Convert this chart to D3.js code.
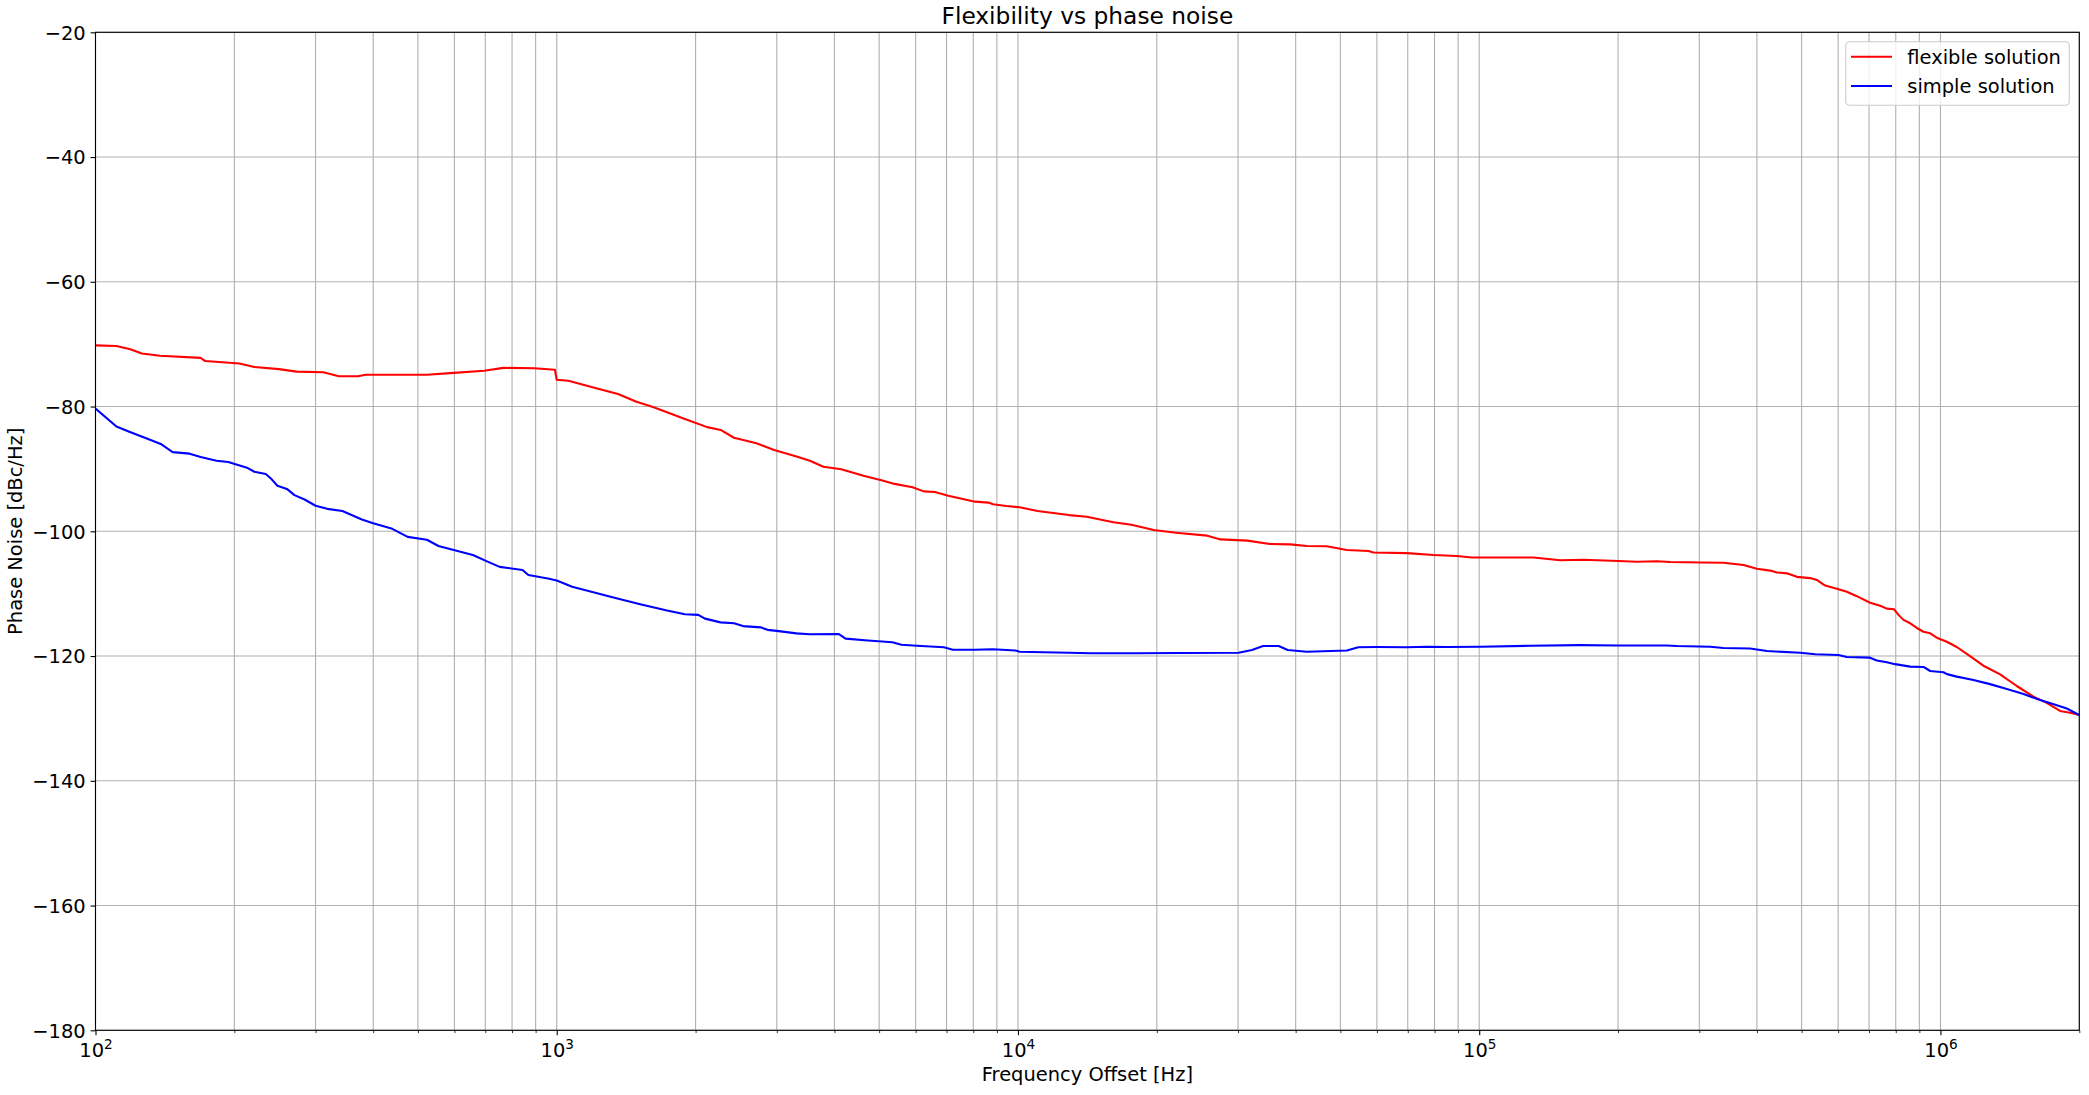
<!DOCTYPE html>
<html>
<head>
<meta charset="utf-8">
<script src="https://cdn.jsdelivr.net/npm/d3@7"></script>
<style>
  html, body { margin: 0; padding: 0; background: #fff; }
  svg { display: block; }
  text { font-family: "DejaVu Sans", sans-serif; fill: #000; }
</style>
</head>
<body>
<svg id="chart" width="2089" height="1095"></svg>
<script>
// ---------------- data ----------------
const flexFreq = [100, 111, 119, 126, 138, 169, 173, 205, 221, 250, 273, 312, 337, 371, 385, 523, 598, 696, 766, 893, 991, 1000, 1060, 1235, 1358, 1484, 1622, 1734, 1896, 2119, 2266, 2423, 2709, 2961, 3310, 3539, 3784, 4138, 4624, 5057, 5402, 5908, 6248, 6604, 7062, 8072, 8633, 8826, 9437, 10086, 11029, 12895, 14093, 16111, 17620, 19697, 22010, 25725, 27502, 31445, 35149, 38940, 42290, 46720, 51640, 57530, 58980, 69660, 79590, 89420, 96380, 131100, 149800, 168200, 200400, 219600, 242700, 259400, 301300, 338500, 374100, 399900, 427500, 441900, 464500, 488300, 521900, 539500, 562300, 596300, 626600, 658700, 703900, 740000, 765200, 793600, 811000, 831400, 859700, 888900, 918400, 949700, 981900, 1032000, 1085000, 1159000, 1239000, 1347000, 1464000, 1591000, 1700000, 1817000, 1910000, 2000000];
const flexPN = [-70.2, -70.3, -70.8, -71.5, -71.85, -72.2, -72.7, -73.1, -73.65, -74.0, -74.4, -74.5, -75.15, -75.15, -74.9, -74.9, -74.6, -74.25, -73.8, -73.85, -74.1, -75.7, -75.86, -77.2, -78.0, -79.2, -80.1, -80.9, -82.0, -83.3, -83.75, -85.0, -85.9, -86.96, -88.0, -88.7, -89.65, -90.06, -91.1, -91.8, -92.4, -92.95, -93.6, -93.7, -94.3, -95.25, -95.4, -95.65, -95.94, -96.15, -96.75, -97.4, -97.66, -98.56, -98.94, -99.8, -100.22, -100.7, -101.3, -101.5, -102.04, -102.1, -102.36, -102.4, -103.0, -103.16, -103.4, -103.5, -103.8, -103.96, -104.2, -104.2, -104.65, -104.55, -104.76, -104.87, -104.8, -104.93, -105.0, -105.03, -105.4, -106.0, -106.3, -106.6, -106.74, -107.3, -107.5, -107.8, -108.7, -109.2, -109.7, -110.4, -111.45, -111.93, -112.4, -112.5, -113.4, -114.2, -114.75, -115.5, -116.1, -116.36, -117.06, -117.7, -118.55, -120.0, -121.55, -122.93, -124.8, -126.5, -127.5, -128.8, -129.08, -129.45];

const simpleFreq = [100, 111, 118, 130, 138.5, 147, 160, 169, 183, 194, 213, 221, 234, 241, 248, 260, 270, 284, 300, 318, 343, 378, 400, 440, 475, 523, 554, 598, 658, 710, 752, 843, 868, 963, 1000, 1080, 1189, 1308, 1517, 1734, 1896, 2027, 2096, 2266, 2423, 2534, 2770, 2864, 3028, 3310, 3539, 4090, 4229, 4729, 5344, 5587, 6042, 6907, 7221, 8072, 8826, 9865, 10086, 12895, 14409, 18012, 22506, 30078, 32160, 33987, 36759, 38431, 42290, 51640, 54700, 59980, 69660, 76990, 85060, 100460, 128960, 165000, 200400, 255100, 268200, 316800, 338500, 386700, 420400, 496500, 535100, 600800, 626600, 703700, 727800, 765000, 797000, 859900, 919000, 950000, 1015000, 1033000, 1085000, 1179000, 1281000, 1393000, 1514000, 1645000, 1788000, 1879000, 2000000];
const simplePN = [-80.3, -83.2, -84.0, -85.2, -86.0, -87.3, -87.55, -88.1, -88.7, -88.9, -89.8, -90.45, -90.8, -91.67, -92.7, -93.2, -94.2, -94.9, -95.9, -96.4, -96.75, -98.1, -98.7, -99.6, -100.9, -101.35, -102.35, -103.0, -103.8, -104.9, -105.7, -106.2, -107.0, -107.6, -107.9, -108.9, -109.7, -110.5, -111.7, -112.7, -113.3, -113.4, -114.0, -114.6, -114.75, -115.2, -115.4, -115.8, -116.0, -116.36, -116.5, -116.47, -117.2, -117.5, -117.8, -118.2, -118.35, -118.6, -118.98, -118.98, -118.9, -119.1, -119.3, -119.46, -119.56, -119.56, -119.5, -119.46, -119.03, -118.4, -118.4, -119.03, -119.3, -119.1, -118.6, -118.56, -118.6, -118.5, -118.56, -118.5, -118.35, -118.25, -118.3, -118.3, -118.4, -118.5, -118.7, -118.8, -119.2, -119.46, -119.7, -119.84, -120.15, -120.26, -120.7, -121.0, -121.3, -121.7, -121.75, -122.4, -122.6, -122.9, -123.3, -123.84, -124.5, -125.3, -126.1, -127.05, -127.9, -128.4, -129.45];

const seriesNames = ["flexible solution", "simple solution"];
const seriesColors = ["#ff0000", "#0000ff"];
const xMajorTicks = [1e2, 1e3, 1e4, 1e5, 1e6];
const xMajorExponents = ["2", "3", "4", "5", "6"];
const yTicks = [-180, -160, -140, -120, -100, -80, -60, -40, -20];
const titleText = "Flexibility vs phase noise";
const xLabelText = "Frequency Offset [Hz]";
const yLabelText = "Phase Noise [dBc/Hz]";

// ---------------- layout ----------------
const W = 2089, H = 1095;
const plot = { left: 95.5, right: 2079.3, top: 32.3, bottom: 1030.3 };
const FS = 19.44;

const svg = d3.select("#chart");
const x = d3.scaleLog().domain([100, 2e6]).range([plot.left, plot.right]);
const y = d3.scaleLinear().domain([-180, -20]).range([plot.bottom, plot.top]);

// minor ticks
const xMinorTicks = [];
for (let e = 2; e <= 6; e++) {
  for (let m = 2; m <= 9; m++) {
    const v = m * Math.pow(10, e);
    if (v <= 2e6) xMinorTicks.push(v);
  }
}

// grid
const grid = svg.append("g");
grid.selectAll("line.vx").data(xMajorTicks.concat(xMinorTicks)).enter().append("line")
  .attr("x1", d => x(d)).attr("x2", d => x(d))
  .attr("y1", plot.top).attr("y2", plot.bottom)
  .attr("stroke", "#b0b0b0").attr("stroke-width", 1.1);
grid.selectAll("line.hy").data(yTicks).enter().append("line")
  .attr("x1", plot.left).attr("x2", plot.right)
  .attr("y1", d => y(d)).attr("y2", d => y(d))
  .attr("stroke", "#b0b0b0").attr("stroke-width", 1.1);

// lines
const line = d3.line().x(d => x(d[0])).y(d => y(d[1]));
const flexData = flexFreq.map((f, i) => [f, flexPN[i]]);
const simpleData = simpleFreq.map((f, i) => [f, simplePN[i]]);
const clip = svg.append("clipPath").attr("id", "clip").append("rect")
  .attr("x", plot.left).attr("y", plot.top)
  .attr("width", plot.right - plot.left).attr("height", plot.bottom - plot.top);
[flexData, simpleData].forEach((data, i) => {
  svg.append("path").datum(data)
    .attr("clip-path", "url(#clip)")
    .attr("d", line)
    .attr("fill", "none")
    .attr("stroke", seriesColors[i])
    .attr("stroke-width", 2.1)
    .attr("stroke-linejoin", "round")
    .attr("stroke-linecap", "square");
});

// axes
const yAxis = d3.axisLeft(y).tickValues(yTicks).tickSize(4.9).tickPadding(4.9);
const gy = svg.append("g").attr("transform", `translate(${plot.left},0)`).call(yAxis);
gy.select(".domain").remove();
gy.selectAll("line").attr("stroke", "#000").attr("stroke-width", 1.1);
gy.selectAll("text").attr("font-size", FS).attr("font-family", "DejaVu Sans").attr("dy", "0.35em");

const xAxis = d3.axisBottom(x).tickValues(xMajorTicks).tickSize(4.9).tickPadding(4.9).tickFormat(() => "");
const gx = svg.append("g").attr("transform", `translate(0,${plot.bottom})`).call(xAxis);
gx.select(".domain").remove();
gx.selectAll("line").attr("stroke", "#000").attr("stroke-width", 1.1);
gx.selectAll(".tick text").each(function (d, i) {
  const t = d3.select(this);
  t.text(null).attr("y", 27).attr("dy", null)
    .attr("font-size", FS).attr("font-family", "DejaVu Sans").attr("text-anchor", "middle");
  t.append("tspan").text("10");
  t.append("tspan").attr("dy", -8).attr("font-size", FS * 0.7).text(xMajorExponents[i]);
});
const xMinorAxis = d3.axisBottom(x).tickValues(xMinorTicks).tickSize(2.8).tickFormat(() => "");
const gxm = svg.append("g").attr("transform", `translate(0,${plot.bottom})`).call(xMinorAxis);
gxm.select(".domain").remove();
gxm.selectAll("line").attr("stroke", "#000").attr("stroke-width", 0.8);

// spines
svg.append("rect")
  .attr("x", plot.left).attr("y", plot.top)
  .attr("width", plot.right - plot.left).attr("height", plot.bottom - plot.top)
  .attr("fill", "none").attr("stroke", "#000").attr("stroke-width", 1.1);

// title and labels
svg.append("text").attr("x", (plot.left + plot.right) / 2).attr("y", 24)
  .attr("text-anchor", "middle").attr("font-size", FS * 1.2).text(titleText);
svg.append("text").attr("x", (plot.left + plot.right) / 2).attr("y", 1081)
  .attr("text-anchor", "middle").attr("font-size", FS).text(xLabelText);
svg.append("text")
  .attr("transform", `translate(22,${(plot.top + plot.bottom) / 2}) rotate(-90)`)
  .attr("text-anchor", "middle").attr("font-size", FS).text(yLabelText);

// legend
const lg = svg.append("g");
lg.append("rect").attr("x", 1845.7).attr("y", 41.7).attr("width", 223.6).attr("height", 63.6)
  .attr("rx", 4).attr("ry", 4)
  .attr("fill", "#fff").attr("fill-opacity", 0.8)
  .attr("stroke", "#cccccc").attr("stroke-width", 1.1);
const legendY = [56.7, 86];
seriesNames.forEach((name, i) => {
  lg.append("line").attr("x1", 1851).attr("x2", 1892)
    .attr("y1", legendY[i]).attr("y2", legendY[i])
    .attr("stroke", seriesColors[i]).attr("stroke-width", 2.1);
  lg.append("text").attr("x", 1907.3).attr("y", legendY[i]).attr("dy", "0.35em")
    .attr("font-size", FS).text(name);
});
</script>
</body>
</html>
